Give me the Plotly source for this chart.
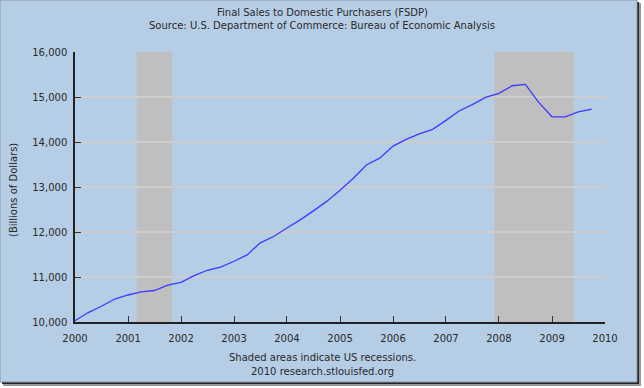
import plotly.graph_objects as go

# ---- data ----
quarters = [
    "2000-01-01", "2000-04-01", "2000-07-01", "2000-10-01",
    "2001-01-01", "2001-04-01", "2001-07-01", "2001-10-01",
    "2002-01-01", "2002-04-01", "2002-07-01", "2002-10-01",
    "2003-01-01", "2003-04-01", "2003-07-01", "2003-10-01",
    "2004-01-01", "2004-04-01", "2004-07-01", "2004-10-01",
    "2005-01-01", "2005-04-01", "2005-07-01", "2005-10-01",
    "2006-01-01", "2006-04-01", "2006-07-01", "2006-10-01",
    "2007-01-01", "2007-04-01", "2007-07-01", "2007-10-01",
    "2008-01-01", "2008-04-01", "2008-07-01", "2008-10-01",
    "2009-01-01", "2009-04-01", "2009-07-01", "2009-10-01",
]
fsdp = [
    10030, 10210, 10350, 10510,
    10600, 10670, 10700, 10820,
    10880, 11030, 11150, 11220,
    11350, 11490, 11760, 11900,
    12090, 12270, 12470, 12680,
    12930, 13190, 13490, 13640,
    13910, 14060, 14180, 14280,
    14480, 14690, 14830, 14990,
    15080, 15250, 15280, 14880,
    14560, 14560, 14670, 14730,
]
recession_starts = ["2001-03-01", "2007-12-01"]
recession_ends = ["2001-11-01", "2009-06-01"]
year_ticks = [str(y) for y in range(2000, 2011)]
y_ticks = [10000, 11000, 12000, 13000, 14000, 15000, 16000]

title_1 = "Final Sales to Domestic Purchasers (FSDP)"
title_2 = "Source: U.S. Department of Commerce: Bureau of Economic Analysis"
y_title = "(Billions of Dollars)"
note_1 = "Shaded areas indicate US recessions."
note_2 = "2010 research.stlouisfed.org"

# ---- geometry (pixels) ----
W, H = 644, 388
L, R, T, B = 75, 605, 52, 322
pw, ph = R - L, B - T


def px(x):
    return (x - L) / pw


def py(y):
    return (B - y) / ph


FONT = "DejaVu Sans"
TXT = "#2a2a2a"
FRAME = "#b5cde5"
FS = 10

fig = go.Figure()
fig.add_trace(go.Scatter(
    x=quarters, y=fsdp, mode="lines",
    line=dict(color="#3b3bff", width=1.3),
    hoverinfo="x+y", showlegend=False,
))

shapes = [
    # shadow and frame
    dict(type="rect", xref="paper", yref="paper", layer="below",
         x0=px(3), x1=px(641), y0=py(3), y1=py(386),
         fillcolor="#9a9a9a", line=dict(width=0)),
    dict(type="rect", xref="paper", yref="paper", layer="below",
         x0=px(2), x1=px(639), y0=py(2), y1=py(384),
         fillcolor="#222222", line=dict(width=0)),
    dict(type="rect", xref="paper", yref="paper", layer="below",
         x0=px(0), x1=px(637), y0=py(0), y1=py(382),
         fillcolor=FRAME, line=dict(color="#8a9aaa", width=1)),
]
for s, e in zip(recession_starts, recession_ends):
    shapes.append(dict(type="rect", xref="x", yref="paper", layer="between",
                       x0=s, x1=e, y0=0, y1=1,
                       fillcolor="#bfbfbf", line=dict(width=0)))

annotations = [
    dict(text=title_1, xref="paper", yref="paper", x=px(322), y=py(12),
         showarrow=False, xanchor="center", yanchor="middle",
         font=dict(family=FONT, size=FS, color=TXT)),
    dict(text=title_2, xref="paper", yref="paper", x=px(322), y=py(26),
         showarrow=False, xanchor="center", yanchor="middle",
         font=dict(family=FONT, size=FS, color=TXT)),
    dict(text=y_title, xref="paper", yref="paper", x=px(13), y=py(190),
         showarrow=False, textangle=-90, xanchor="center", yanchor="middle",
         font=dict(family=FONT, size=FS, color=TXT)),
    dict(text=note_1, xref="paper", yref="paper", x=px(322), y=py(357),
         showarrow=False, xanchor="center", yanchor="middle",
         font=dict(family=FONT, size=FS, color=TXT)),
    dict(text=note_2, xref="paper", yref="paper", x=px(322), y=py(371),
         showarrow=False, xanchor="center", yanchor="middle",
         font=dict(family=FONT, size=FS, color=TXT)),
]

fig.update_layout(
    width=W, height=H,
    margin=dict(l=L, r=W - R, t=T, b=H - B, pad=0),
    paper_bgcolor="white",
    plot_bgcolor="white",
    shapes=shapes,
    annotations=annotations,
    showlegend=False,
    font=dict(family=FONT, size=FS, color=TXT),
)
fig.update_xaxes(
    type="date",
    range=["2000-01-01", "2010-01-01"],
    tickvals=[f"{y}-01-01" for y in year_ticks],
    ticktext=year_ticks,
    ticks="inside", ticklen=6, tickcolor="#333333", tickwidth=1.3,
    showline=True, linecolor="#222222", linewidth=1.5,
    showgrid=False, zeroline=False,
    ticklabelstandoff=6,
    tickfont=dict(family=FONT, size=FS, color=TXT),
    fixedrange=True,
)
fig.update_yaxes(
    range=[10000, 16000],
    tickvals=y_ticks,
    tickformat=",d",
    ticks="inside", ticklen=6, tickcolor="#333333", tickwidth=1.3,
    showline=True, linecolor="#222222", linewidth=1.5,
    showgrid=True, gridcolor="#cdcdcd", gridwidth=1.5,
    zeroline=False,
    ticklabelstandoff=4,
    tickfont=dict(family=FONT, size=FS, color=TXT),
    fixedrange=True,
)

fig.write_html(
    "out.html",
    config={"displayModeBar": False},
    post_script="document.body.style.margin='0';",
)
